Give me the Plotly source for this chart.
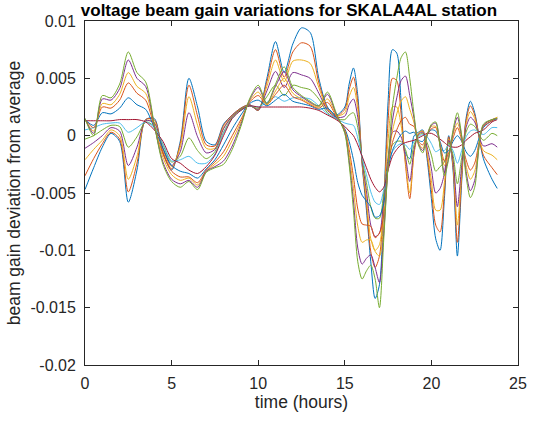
import plotly.graph_objects as go

# time axis (hours)
hours = [0, 0.5, 1, 1.5, 2, 2.5, 3, 3.5, 4, 4.5, 5, 5.5, 6, 6.5, 7, 7.5, 8, 8.5, 9, 9.5,
         10, 10.5, 11, 11.5, 12, 12.5, 13, 13.5, 14, 14.5, 15, 15.25, 15.5, 15.75, 16, 16.25,
         16.5, 16.75, 17, 17.25, 17.5, 17.75, 18, 18.25, 18.5, 18.75, 19, 19.25, 19.5, 19.75,
         20, 20.25, 20.5, 20.75, 21, 21.25, 21.5, 21.75, 22, 22.25, 22.5, 23, 23.5, 23.8]

# beam gain deviation, in units of 1e-4
s01_blue = [-47, -28, -10, 2, -5, -58, -30, 14, 15, -15, -30, -5, 50, 25, -5, -8, 10, 18, 24, 27,
            22, 50, 82, 55, 80, 94, 90, 50, 25, 18, 25, 45, 59, 35, -25, -65, -110, -142, -130, -60,
            30, 75, 72, 30, -15, -20, 0, 3, 5, -20, -55, -90, -100, -55, 0, -30, -105, -40, 15, 30,
            20, -20, -38, -46]
s02_orange = [-35, -20, -7, 3, -3, -49, -24, 14, 14, -14, -29, -7, 44, 17, -8, -9, 9, 18, 24, 27,
              22, 47, 75, 51, 73, 81, 78, 46, 24, 17, 23, 40, 51, 29, -24, -60, -101, -115, -105, -58,
              13, 50, 48, 19, -25, -55, -15, 2, 4, -17, -48, -78, -84, -49, -1, -27, -93, -36, 13, 26,
              18, -17, -28, -34]
s03_yellow = [-21, -12, -4, 5, 0, -38, -18, 13, 12, -12, -27, -10, 34, 9, -11, -11, 7, 17, 23, 26,
              23, 43, 66, 47, 65, 66, 63, 42, 23, 17, 20, 34, 42, 23, -23, -55, -90, -100, -95, -56,
              -4, 25, 25, 9, -22, -50, -15, 2, 4, -14, -39, -65, -65, -41, -3, -24, -78, -31, 10, 21,
              15, -13, -17, -21]
s04_purple = [-11, -6, 0, 7, 4, -26, -10, 13, 11, -11, -26, -14, 20, -1, -15, -12, 6, 17, 23, 26,
              23, 39, 56, 42, 55, 53, 50, 37, 22, 16, 17, 27, 32, 16, -22, -48, -78, -88, -85, -53,
              -19, 3, 4, -1, -18, -40, -12, 1, 3, -10, -29, -50, -46, -33, -4, -21, -62, -26, 7, 16,
              12, -9, -7, -10]
s05_green = [-3, 0, 5, 9, 8, -10, -1, 12, 8, -8, -23, -18, -2, -13, -20, -14, 3, 16, 23, 26,
             24, 34, 44, 35, 44, 42, 40, 32, 20, 15, 14, 18, 20, 7, -20, -41, -62, -72, -72, -50,
             -25, -8, -5, -5, -12, -25, -8, 0, 2, -6, -17, -31, -27, -23, -6, -17, -42, -19, 3, 10,
             8, -4, 2, 0]
s06_cyan = [5, 7, 10, 11, 11, 3, 7, 12, 7, -7, -22, -21, -18, -24, -24, -16, 2, 15, 22, 26,
            25, 29, 34, 30, 33, 33, 32, 26, 19, 15, 11, 10, 9, -2, -19, -34, -49, -58, -60, -47,
            -28, -14, -9, -7, -8, -12, -5, -1, 1, -1, -7, -14, -12, -13, -8, -13, -24, -13, -1, 4,
            5, 1, 7, 7]
s07_red = [13, 13, 13, 13, 14, 14, 14, 12, 5, -5, -20, -24, -30, -33, -27, -17, 0, 15, 22, 26,
           25, 25, 25, 25, 25, 25, 24, 22, 18, 14, 8, 4, 0, -8, -18, -28, -38, -45, -49, -45,
           -30, -18, -12, -8, -6, -5, -4, -2, 0, 2, 2, 0, -3, -6, -9, -10, -10, -8, -4, -1,
           2, 5, 12, 14]
s08_blue = [14, 9, 20, 19, 24, 33, 27, 23, 7, -11, -26, -31, -33, -37, -29, -21, -8, 6, 18, 28,
            31, 26, 31, 36, 30, 28, 26, 23, 24, 16, 6, -5, -21, -41, -52, -57, -62, -71, -70, -59,
            -28, -13, -5, 1, 4, 2, 3, -4, -5, 1, 5, 4, -5, -15, -13, -5, 0, -5, -14, -18,
            -13, 7, 13, 15]
s09_orange = [14, 7, 25, 24, 31, 46, 37, 31, 8, -16, -31, -36, -36, -41, -30, -23, -14, 0, 14, 29,
              35, 27, 36, 44, 34, 31, 27, 24, 29, 17, 5, -12, -36, -64, -77, -78, -79, -89, -85, -70,
              -27, -6, 5, 13, 16, 10, 8, -5, -8, 1, 6, 7, -7, -22, -15, -2, 7, -4, -21, -30,
              -24, 8, 13, 16]
s10_yellow = [14, 4, 28, 27, 36, 55, 43, 37, 9, -19, -34, -39, -37, -43, -31, -25, -18, -4, 12, 30,
              38, 27, 39, 50, 37, 32, 28, 25, 32, 18, 4, -16, -46, -79, -93, -91, -91, -101, -105, -77,
              -27, 4, 19, 30, 34, 23, 11, -6, -11, 1, 8, 8, -8, -26, -17, 1, 11, -2, -26, -38,
              -31, 9, 14, 16]
s11_purple = [15, 2, 32, 31, 41, 66, 50, 43, 9, -23, -38, -42, -39, -45, -31, -27, -22, -9, 10, 31,
              42, 28, 43, 56, 40, 34, 29, 26, 36, 19, 3, -22, -57, -98, -112, -107, -104, -115, -128, -85,
              -26, 13, 33, 48, 52, 35, 15, -7, -13, 0, 9, 11, -9, -32, -19, 3, 16, -1, -31, -48,
              -39, 9, 14, 15]
s12_green = [15, 0, 35, 33, 45, 73, 55, 47, 10, -25, -40, -45, -40, -47, -32, -28, -25, -12, 8, 32,
             44, 28, 45, 60, 42, 35, 30, 26, 38, 20, 2, -25, -65, -110, -125, -118, -113, -125, -150, -90,
             -25, 25, 50, 68, 73, 50, 18, -8, -15, 0, 10, 12, -10, -35, -20, 5, 20, 0, -35, -54,
             -45, 10, 14, 15]

x_ticks = [0, 5, 10, 15, 20, 25]
y_ticks = [-0.02, -0.015, -0.01, -0.005, 0, 0.005, 0.01]
y_tick_labels = ['-0.02', '-0.015', '-0.01', '-0.005', '0', '0.005', '0.01']

series = [
    (s01_blue, '#0072BD'), (s02_orange, '#D95319'), (s03_yellow, '#EDB120'),
    (s04_purple, '#7E2F8E'), (s05_green, '#77AC30'), (s06_cyan, '#4DBEEE'),
    (s07_red, '#A2142F'), (s08_blue, '#0072BD'), (s09_orange, '#D95319'),
    (s10_yellow, '#EDB120'), (s11_purple, '#7E2F8E'), (s12_green, '#77AC30'),
]

fig = go.Figure()
for vals, color in series:
    fig.add_trace(go.Scatter(
        x=hours, y=[v * 1e-4 for v in vals], mode='lines',
        line=dict(color=color, width=1, shape='spline', smoothing=0.8),
        showlegend=False, hoverinfo='skip'))

font_family = 'Liberation Sans, Arial, Helvetica, sans-serif'
axis_color = '#262626'
common_axis = dict(
    showline=True, mirror='ticks', linecolor=axis_color, linewidth=1,
    ticks='inside', ticklen=5, tickcolor=axis_color, tickwidth=1,
    showgrid=False, zeroline=False, automargin=False,
    tickfont=dict(family=font_family, size=16, color=axis_color),
)

fig.update_layout(
    width=539, height=421,
    margin=dict(l=85, r=21, t=21, b=56),
    paper_bgcolor='white', plot_bgcolor='white',
    font=dict(family=font_family, size=16, color=axis_color),
    title=dict(text='<b>voltage beam gain variations for SKALA4AL station</b>',
               font=dict(family=font_family, size=17, color='black'),
               xref='paper', x=0.471, xanchor='center',
               yref='container', y=1 - 10 / 421, yanchor='middle', automargin=False),
    xaxis=dict(range=[0, 25], tickvals=x_ticks, ticklabelstandoff=4,
               title=dict(text='time (hours)', standoff=2,
                          font=dict(family=font_family, size=17.5, color=axis_color)),
               **common_axis),
    yaxis=dict(range=[-0.02, 0.01], tickvals=y_ticks, ticktext=y_tick_labels,
               ticklabelstandoff=5,
               title=dict(text='beam gain deviation from average', standoff=5,
                          font=dict(family=font_family, size=17.5, color=axis_color)),
               **common_axis),
)

fig.write_html('out.html',
               config={'displayModeBar': False, 'staticPlot': True},
               post_script="document.body.style.margin='0';document.body.style.padding='0';")
